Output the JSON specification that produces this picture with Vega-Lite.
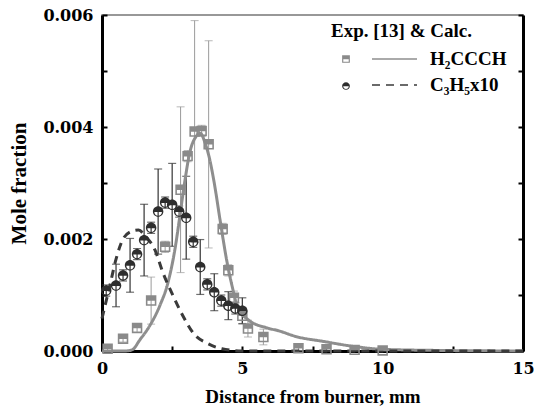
{
  "$schema": "https://vega.github.io/schema/vega-lite/v6.json",
  "width": 421,
  "height": 336,
  "autosize": {"type": "none"},
  "padding": {"left": 102, "top": 15, "right": 11, "bottom": 59},
  "background": "white",
  "config": {
    "view": {"stroke": "#777777", "strokeWidth": 1.5},
    "font": "Liberation Serif",
    "axis": {
      "grid": false,
      "domainColor": "black",
      "domainWidth": 3,
      "tickColor": "black",
      "tickWidth": 2,
      "tickSize": -5,
      "labelFont": "DejaVu Serif",
      "labelFontWeight": "bold",
      "labelFontSize": 16,
      "labelColor": "black",
      "labelFlush": false,
      "labelOverlap": false,
      "labelBound": false,
      "titleFont": "Liberation Serif",
      "titleFontWeight": "bold",
      "titleColor": "black"
    },
    "legend": {
      "orient": "none",
      "padding": 0,
      "titleFont": "Liberation Serif",
      "titleFontWeight": "bold",
      "titleFontSize": 19,
      "titleColor": "black",
      "labelFont": "Liberation Serif",
      "labelFontWeight": "bold",
      "labelFontSize": 19,
      "labelColor": "black"
    }
  },
  "datasets": {
    "pts": [
      {"sp": "H2CCCH", "x": 0.2, "y": 0.00004, "e": 0.00003},
      {"sp": "H2CCCH", "x": 0.75, "y": 0.00022, "e": 0.00006},
      {"sp": "H2CCCH", "x": 1.25, "y": 0.00041, "e": 0.00007},
      {"sp": "H2CCCH", "x": 1.75, "y": 0.0009, "e": 0.00042},
      {"sp": "H2CCCH", "x": 2.25, "y": 0.00186, "e": 0.0001},
      {"sp": "H2CCCH", "x": 2.8, "y": 0.00288, "e": 0.00148},
      {"sp": "H2CCCH", "x": 3.05, "y": 0.00348, "e": 0.0001},
      {"sp": "H2CCCH", "x": 3.3, "y": 0.00392, "e": 0.00198},
      {"sp": "H2CCCH", "x": 3.55, "y": 0.00393, "e": 0.0001},
      {"sp": "H2CCCH", "x": 3.8, "y": 0.00369, "e": 0.00185},
      {"sp": "H2CCCH", "x": 4.3, "y": 0.00218, "e": 0.0001},
      {"sp": "H2CCCH", "x": 4.5, "y": 0.00144, "e": 0.0001},
      {"sp": "H2CCCH", "x": 4.7, "y": 0.00095, "e": 0.00012},
      {"sp": "H2CCCH", "x": 5.0, "y": 0.00063, "e": 0.00015},
      {"sp": "H2CCCH", "x": 5.2, "y": 0.0004, "e": 0.00015},
      {"sp": "H2CCCH", "x": 5.75, "y": 0.00025, "e": 0.00014},
      {"sp": "H2CCCH", "x": 7.0, "y": 0.00005, "e": 0.00004},
      {"sp": "H2CCCH", "x": 8.0, "y": 0.00003, "e": 0.00003},
      {"sp": "H2CCCH", "x": 9.0, "y": 0.00002, "e": 0.00002},
      {"sp": "H2CCCH", "x": 10.0, "y": 0.00001, "e": 0.00001},
      {"sp": "C3H5", "x": 0.15, "y": 0.00108, "e": 0.0001},
      {"sp": "C3H5", "x": 0.5, "y": 0.00117, "e": 0.00038},
      {"sp": "C3H5", "x": 0.75, "y": 0.00135, "e": 0.0001},
      {"sp": "C3H5", "x": 1.0, "y": 0.00153, "e": 0.00048},
      {"sp": "C3H5", "x": 1.25, "y": 0.00173, "e": 0.0001},
      {"sp": "C3H5", "x": 1.5, "y": 0.00198, "e": 0.00064},
      {"sp": "C3H5", "x": 1.75, "y": 0.0022, "e": 0.0001},
      {"sp": "C3H5", "x": 2.0, "y": 0.00249, "e": 0.00076},
      {"sp": "C3H5", "x": 2.25, "y": 0.00265, "e": 0.0001},
      {"sp": "C3H5", "x": 2.5, "y": 0.00261, "e": 0.00074},
      {"sp": "C3H5", "x": 2.75, "y": 0.00249, "e": 0.0001},
      {"sp": "C3H5", "x": 3.0, "y": 0.00238, "e": 0.00074},
      {"sp": "C3H5", "x": 3.25, "y": 0.00195, "e": 0.0001},
      {"sp": "C3H5", "x": 3.5, "y": 0.0015, "e": 0.00049},
      {"sp": "C3H5", "x": 3.75, "y": 0.00119, "e": 0.0001},
      {"sp": "C3H5", "x": 4.0, "y": 0.00105, "e": 0.00033},
      {"sp": "C3H5", "x": 4.25, "y": 0.0009, "e": 0.0001},
      {"sp": "C3H5", "x": 4.5, "y": 0.00081, "e": 0.00025},
      {"sp": "C3H5", "x": 4.75, "y": 0.00076, "e": 0.0001},
      {"sp": "C3H5", "x": 5.0, "y": 0.00072, "e": 0.00023}
    ],
    "calc": [
      {"c": "H2CCCH calc", "x": 0.0, "y": 0.0},
      {"c": "H2CCCH calc", "x": 0.8, "y": 0.0},
      {"c": "H2CCCH calc", "x": 1.07, "y": 0.00002},
      {"c": "H2CCCH calc", "x": 1.35, "y": 0.0002},
      {"c": "H2CCCH calc", "x": 1.7, "y": 0.00045},
      {"c": "H2CCCH calc", "x": 2.06, "y": 0.00081},
      {"c": "H2CCCH calc", "x": 2.35, "y": 0.00122},
      {"c": "H2CCCH calc", "x": 2.6, "y": 0.00182},
      {"c": "H2CCCH calc", "x": 2.78, "y": 0.00243},
      {"c": "H2CCCH calc", "x": 2.95, "y": 0.00303},
      {"c": "H2CCCH calc", "x": 3.13, "y": 0.00355},
      {"c": "H2CCCH calc", "x": 3.35, "y": 0.00383},
      {"c": "H2CCCH calc", "x": 3.5, "y": 0.00389},
      {"c": "H2CCCH calc", "x": 3.67, "y": 0.00372},
      {"c": "H2CCCH calc", "x": 3.8, "y": 0.0035},
      {"c": "H2CCCH calc", "x": 4.0, "y": 0.003},
      {"c": "H2CCCH calc", "x": 4.2, "y": 0.00236},
      {"c": "H2CCCH calc", "x": 4.45, "y": 0.0016},
      {"c": "H2CCCH calc", "x": 4.63, "y": 0.00117},
      {"c": "H2CCCH calc", "x": 4.84, "y": 0.00078},
      {"c": "H2CCCH calc", "x": 5.2, "y": 0.00056},
      {"c": "H2CCCH calc", "x": 5.9, "y": 0.00041},
      {"c": "H2CCCH calc", "x": 6.3, "y": 0.00036},
      {"c": "H2CCCH calc", "x": 6.9, "y": 0.00026},
      {"c": "H2CCCH calc", "x": 7.9, "y": 0.00017},
      {"c": "H2CCCH calc", "x": 9.0, "y": 0.00008},
      {"c": "H2CCCH calc", "x": 10.0, "y": 0.00003},
      {"c": "H2CCCH calc", "x": 12.0, "y": 0.00001},
      {"c": "H2CCCH calc", "x": 15.0, "y": 0.0},
      {"c": "C3H5 calc", "x": 0.0, "y": 0.00058},
      {"c": "C3H5 calc", "x": 0.28, "y": 0.00117},
      {"c": "C3H5 calc", "x": 0.5, "y": 0.00164},
      {"c": "C3H5 calc", "x": 0.75, "y": 0.002},
      {"c": "C3H5 calc", "x": 1.07, "y": 0.00214},
      {"c": "C3H5 calc", "x": 1.3, "y": 0.00216},
      {"c": "C3H5 calc", "x": 1.55, "y": 0.00205},
      {"c": "C3H5 calc", "x": 1.89, "y": 0.0018},
      {"c": "C3H5 calc", "x": 2.17, "y": 0.0014},
      {"c": "C3H5 calc", "x": 2.53, "y": 0.00099},
      {"c": "C3H5 calc", "x": 2.88, "y": 0.00063},
      {"c": "C3H5 calc", "x": 3.3, "y": 0.00029},
      {"c": "C3H5 calc", "x": 3.74, "y": 0.00014},
      {"c": "C3H5 calc", "x": 4.27, "y": 0.00004},
      {"c": "C3H5 calc", "x": 5.0, "y": 0.0},
      {"c": "C3H5 calc", "x": 15.0, "y": 0.0}
    ]
  },
  "encoding": {
    "x": {
      "field": "x",
      "type": "quantitative",
      "scale": {"domain": [0, 15], "nice": false, "zero": false},
      "axis": {
        "title": "Distance from burner, mm",
        "titleFontSize": 19,
        "values": [0, 2.5, 5, 7.5, 10, 12.5, 15],
        "labelExpr": "datum.value % 5 === 0 ? format(datum.value, 'd') : ''",
        "labelPadding": 14,
        "titlePadding": 11
      }
    }
  },
  "layer": [
    {
      "data": {"name": "pts"},
      "transform": [{"filter": "datum.sp === 'H2CCCH'"}],
      "mark": {"type": "errorbar", "ticks": {"size": 8}, "color": "#9a9a9a", "thickness": 1},
      "encoding": {
        "y": {"field": "y", "type": "quantitative", "scale": {"domain": [0, 0.006], "nice": false}, "axis": null},
        "yError": {"field": "e"}
      }
    },
    {
      "data": {"name": "pts"},
      "transform": [{"filter": "datum.sp === 'C3H5'"}],
      "mark": {"type": "errorbar", "ticks": {"size": 8}, "color": "#333333", "thickness": 1.2},
      "encoding": {
        "y": {"field": "y", "type": "quantitative", "scale": {"domain": [0, 0.006], "nice": false}, "axis": null},
        "yError": {"field": "e"}
      }
    },
    {
      "data": {"name": "calc"},
      "mark": {"type": "line", "strokeWidth": 3, "interpolate": "monotone"},
      "encoding": {
        "y": {
          "field": "y",
          "type": "quantitative",
          "scale": {"domain": [0, 0.006], "nice": false},
          "axis": {"orient": "right", "title": null, "labels": false, "values": [0, 0.001, 0.002, 0.003, 0.004, 0.005, 0.006]}
        },
        "stroke": {
          "field": "c",
          "type": "nominal",
          "scale": {"domain": ["H2CCCH calc", "C3H5 calc"], "range": ["#8e8e8e", "#3a3a3a"]},
          "legend": {
            "title": null,
            "symbolType": "stroke",
            "symbolSize": 2025,
            "symbolStrokeWidth": 1.5,
            "clipHeight": 20,
            "labelOffset": 12,
            "rowPadding": 6,
            "legendX": 269,
            "legendY": 34,
            "labelExpr": "datum.value === 'H2CCCH calc' ? 'H₂CCCH' : 'C₃H₅x10'"
          }
        },
        "strokeDash": {
          "field": "c",
          "type": "nominal",
          "scale": {"domain": ["H2CCCH calc", "C3H5 calc"], "range": [[1, 0], [8, 6]]},
          "legend": {
            "title": null,
            "symbolType": "stroke",
            "symbolSize": 2025,
            "symbolStrokeWidth": 1.5,
            "clipHeight": 20,
            "labelOffset": 12,
            "rowPadding": 6,
            "legendX": 269,
            "legendY": 34,
            "labelExpr": "datum.value === 'H2CCCH calc' ? 'H₂CCCH' : 'C₃H₅x10'"
          }
        }
      }
    },
    {
      "data": {"name": "pts"},
      "mark": {"type": "point", "filled": true, "opacity": 1, "size": 110, "strokeWidth": 0},
      "encoding": {
        "y": {
          "field": "y",
          "type": "quantitative",
          "scale": {"domain": [0, 0.006], "nice": false},
          "axis": {
            "orient": "left",
            "title": "Mole fraction",
            "titleFontSize": 21,
            "values": [0, 0.001, 0.002, 0.003, 0.004, 0.005, 0.006],
            "labelExpr": "round(datum.value * 1000) % 2 === 0 ? format(datum.value, '.3f') : ''",
            "labelPadding": 14,
            "titlePadding": 13
          }
        },
        "fill": {
          "field": "sp",
          "type": "nominal",
          "scale": {"domain": ["H2CCCH", "C3H5"], "range": ["#8a8a8a", "#2e2e2e"]},
          "legend": {
            "title": "Exp. [13] & Calc.",
            "titlePadding": 13,
            "symbolSize": 60,
            "symbolOffset": 10,
            "rowPadding": 13,
            "labelFontSize": 1,
            "labelExpr": "''",
            "legendX": 229,
            "legendY": 7
          }
        },
        "shape": {
          "field": "sp",
          "type": "nominal",
          "scale": {
            "domain": ["H2CCCH", "C3H5"],
            "range": [
              "M-1,-1H1V1H-1Z M-0.7,0.05V0.7H0.7V0.05Z",
              "M-1,0A1,1,0,1,1,1,0A1,1,0,1,1,-1,0Z M-0.72,0.08A0.72,0.72,0,0,0,0.72,0.08Z"
            ]
          },
          "legend": {
            "title": "Exp. [13] & Calc.",
            "titlePadding": 13,
            "symbolSize": 60,
            "symbolOffset": 10,
            "rowPadding": 13,
            "labelFontSize": 1,
            "labelExpr": "''",
            "legendX": 229,
            "legendY": 7
          }
        }
      }
    }
  ],
  "resolve": {"axis": {"y": "independent"}}
}
